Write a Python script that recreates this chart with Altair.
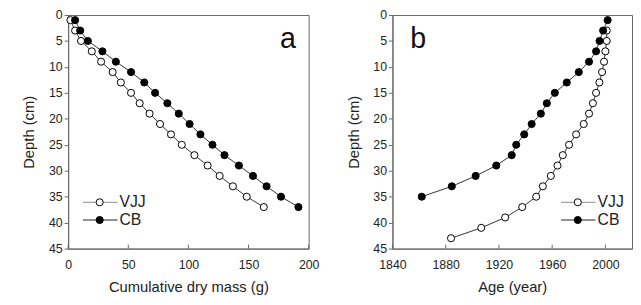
import altair as alt
import pandas as pd

depth_a = [1, 3, 5, 7, 9, 11, 13, 15, 17, 19, 21, 23, 25, 27, 29, 31, 33, 35, 37]
vjj_mass = [1.9, 5.8, 10.7, 19.7, 27.4, 37, 43.8, 52.3, 59.5, 67.7, 76.4, 85.5, 94.5, 105, 116, 126, 137, 148.5, 162.7]
cb_mass = [5.8, 10, 16.4, 28.5, 39.7, 52.3, 63.3, 72.3, 82.5, 92, 101, 110, 120, 130, 142, 153.7, 165, 177, 191.5]

depth_cb_b = [1, 3, 5, 7, 9, 11, 13, 15, 17, 19, 21, 23, 25, 27, 29, 31, 33, 35]
cb_age = [2001.7, 1998.3, 1995.6, 1993, 1987.7, 1980, 1971, 1962, 1956, 1951.5, 1944.6, 1939, 1933, 1929.6, 1918, 1902.5, 1884.6, 1862]
depth_vjj_b = [3, 5, 7, 9, 11, 13, 15, 17, 19, 21, 23, 25, 27, 29, 31, 33, 35, 37, 39, 41, 43]
vjj_age = [2001, 2001, 2000, 1999, 1997.5, 1995.5, 1993, 1990.6, 1987.7, 1983.7, 1978, 1972.7, 1968, 1964, 1959, 1953, 1948, 1937.5, 1924.7, 1906.7, 1884]

series = ["VJJ", "CB"]
mass_ticks = [0, 50, 100, 150, 200]
age_ticks = [1840, 1880, 1920, 1960, 2000]
depth_ticks = [0, 5, 10, 15, 20, 25, 30, 35, 40, 45]

FONT = "Liberation Sans"
W_A, W_B, H = 244, 243, 237
AX = "#666666"

df_a = pd.concat([
    pd.DataFrame({"x": vjj_mass, "depth": depth_a, "series": "VJJ"}),
    pd.DataFrame({"x": cb_mass, "depth": depth_a, "series": "CB"}),
])
df_b = pd.concat([
    pd.DataFrame({"x": vjj_age, "depth": depth_vjj_b, "series": "VJJ"}),
    pd.DataFrame({"x": cb_age, "depth": depth_cb_b, "series": "CB"}),
])

fill_scale = alt.Scale(domain=series, range=["white", "black"])


def panel(df, domain, ticks, xtitle, width, letter, letter_x, leg_x):
    xs = alt.Scale(domain=domain, nice=False)
    ys = alt.Scale(domain=[0, 45], reverse=True, nice=False)
    xaxis = alt.Axis(values=ticks, title=xtitle, ticks=False, labelPadding=10,
                     titlePadding=9, grid=False, format="d", labelOverlap=False,
                     labelFlush=False)
    yaxis = alt.Axis(values=depth_ticks, title="Depth (cm)", tickSize=4,
                     labelPadding=2, titlePadding=12, grid=False, labelOverlap=False,
                     labelFlush=False)
    X = alt.X("x:Q", scale=xs, axis=xaxis)
    Y = alt.Y("depth:Q", scale=ys, axis=yaxis)
    base = alt.Chart(df)
    lines = base.mark_line(color="#333333", strokeWidth=1).encode(
        x=X, y=Y, detail="series:N", order="depth:Q",
    )
    pts = base.mark_point(shape="circle", size=52, filled=True, stroke="black",
                          strokeWidth=1, opacity=1).encode(
        x=X, y=Y,
        fill=alt.Fill("series:N", scale=fill_scale, legend=None),
    )
    tdf = pd.DataFrame({"x": ticks})
    xt = alt.Chart(tdf).mark_rule(color=AX, strokeWidth=1).encode(
        x=X, y=alt.value(H - 4), y2=alt.value(H)
    )
    ldf = pd.DataFrame({"series": series, "ly": [190, 208]})
    leg_line = alt.Chart(ldf).mark_rule(strokeWidth=1).encode(
        x=alt.value(leg_x), x2=alt.value(leg_x + 35), y=alt.Y("ly:Q", scale=None),
        color=alt.Color("series:N", scale=alt.Scale(domain=series, range=["#8a8a8a", "#222222"]), legend=None),
    )
    leg_pt = alt.Chart(ldf).mark_point(shape="circle", size=52, filled=True, stroke="black",
                                       strokeWidth=1, opacity=1).encode(
        x=alt.value(leg_x + 17), y=alt.Y("ly:Q", scale=None),
        fill=alt.Fill("series:N", scale=fill_scale, legend=None),
    )
    leg_txt = alt.Chart(ldf).mark_text(align="left", baseline="middle", font=FONT,
                                       fontSize=16, color="#222222").encode(
        x=alt.value(leg_x + 37), y=alt.Y("ly:Q", scale=None), text="series:N"
    )
    lab = alt.Chart(pd.DataFrame({"l": [letter]})).mark_text(
        align="left", baseline="alphabetic", font=FONT, fontSize=29, color="#111111"
    ).encode(x=alt.value(letter_x), y=alt.value(33), text="l:N")
    return alt.layer(lines, pts, xt, leg_line, leg_pt, leg_txt, lab).properties(
        width=width, height=H
    )


pa = panel(df_a, [0, 200], mass_ticks, "Cumulative dry mass (g)", W_A, "a", 215, 15)
pb = panel(df_b, [1840, 2020], age_ticks, "Age (year)", W_B, "b", 18, 171)

chart = alt.hconcat(pa, pb, spacing=85, bounds="flush").properties(
    padding={"left": 13, "top": -2, "right": 0, "bottom": 0},
    background="white",
).configure_view(stroke=AX, strokeWidth=1).configure_axis(
    domainColor=AX, tickColor=AX, labelFont=FONT, titleFont=FONT,
    labelFontSize=12.5, titleFontSize=15, labelColor="#222222", titleColor="#222222",
    titleFontWeight="normal",
)

chart.save("out.html", embed_options={"renderer": "svg", "actions": False})
